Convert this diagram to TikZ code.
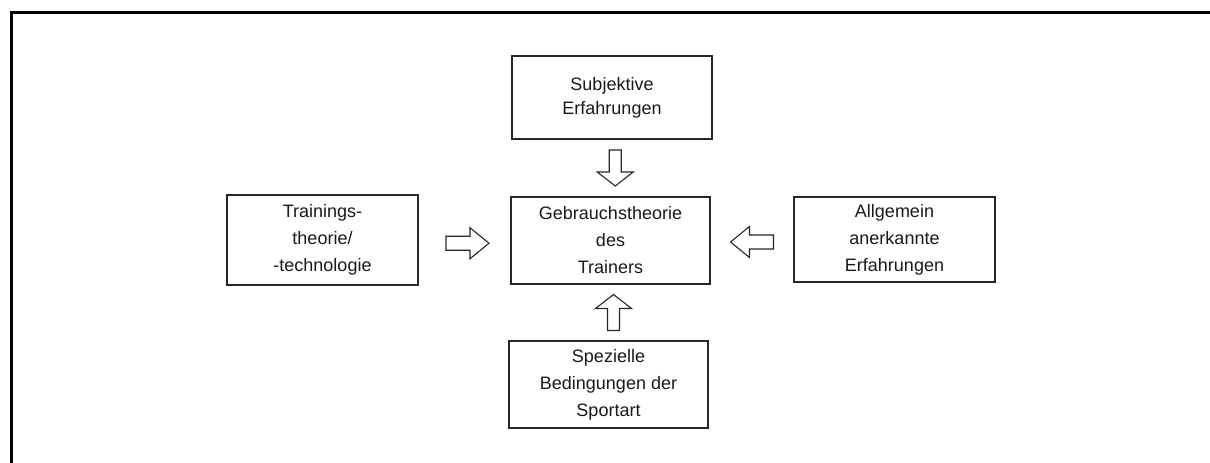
\documentclass[tikz,border=0pt]{standalone}
\usepackage{fontspec}
\setmainfont{Liberation Sans}
\usetikzlibrary{calc}
\begin{document}
\begin{tikzpicture}[x=1pt,y=-1pt,
  box/.style={draw=black!85, line width=1.1pt, text=black!90, align=center,
    inner sep=0pt, font=\fontsize{18}{27}\selectfont},
  blockarr/.style={draw=black!85, line width=1.1pt, fill=white, line join=miter}]
\useasboundingbox (0,0) rectangle (1210,463);
% outer frame (top and left edges only)
\draw[line width=3pt, line join=miter] (11,463) -- (11,12.5) -- (1210,12.5);
% boxes
\node[box, minimum width=200pt, minimum height=83pt, font=\fontsize{18}{24}\selectfont] (top) at (612,97.5) {Subjektive\\Erfahrungen};
\node[box, minimum width=199pt, minimum height=87pt] (center) at (610.5,240.5) {Gebrauchstheorie\\des\\Trainers};
\node[box, minimum width=199pt, minimum height=87pt] (bottom) at (608.5,384.5) {Spezielle\\Bedingungen der\\Sportart};
\node[box, minimum width=191pt, minimum height=90pt] (left) at (322.5,240) {Trainings-\\theorie/\\-technologie};
\node[box, minimum width=201pt, minimum height=85pt] (right) at (894.5,239.5) {Allgemein\\anerkannte\\Erfahrungen};
% block arrows
\begin{scope}[shift={($(top.south)!0.5!(center.north)+(4,0)$)}]
  \draw[blockarr] (-6,-18) -- (6,-18) -- (6,4) -- (18,4) -- (0,18) -- (-18,4) -- (-6,4) -- cycle;
\end{scope}
\begin{scope}[shift={($(bottom.north)!0.5!(center.south)+(4,0)$)}]
  \draw[blockarr] (-6,18) -- (6,18) -- (6,-4) -- (18,-4) -- (0,-18) -- (-18,-4) -- (-6,-4) -- cycle;
\end{scope}
\begin{scope}[shift={($(left.east)!0.5!(center.west)+(3,3)$)}]
  \draw[blockarr] (-21.5,-7) -- (2.5,-7) -- (2.5,-15.5) -- (21.5,0) -- (2.5,15.5) -- (2.5,7) -- (-21.5,7) -- cycle;
\end{scope}
\begin{scope}[shift={($(right.west)!0.5!(center.east)+(0,2)$)}]
  \draw[blockarr] (21.5,-7) -- (-2.5,-7) -- (-2.5,-15.5) -- (-21.5,0) -- (-2.5,15.5) -- (-2.5,7) -- (21.5,7) -- cycle;
\end{scope}
\end{tikzpicture}
\end{document}
